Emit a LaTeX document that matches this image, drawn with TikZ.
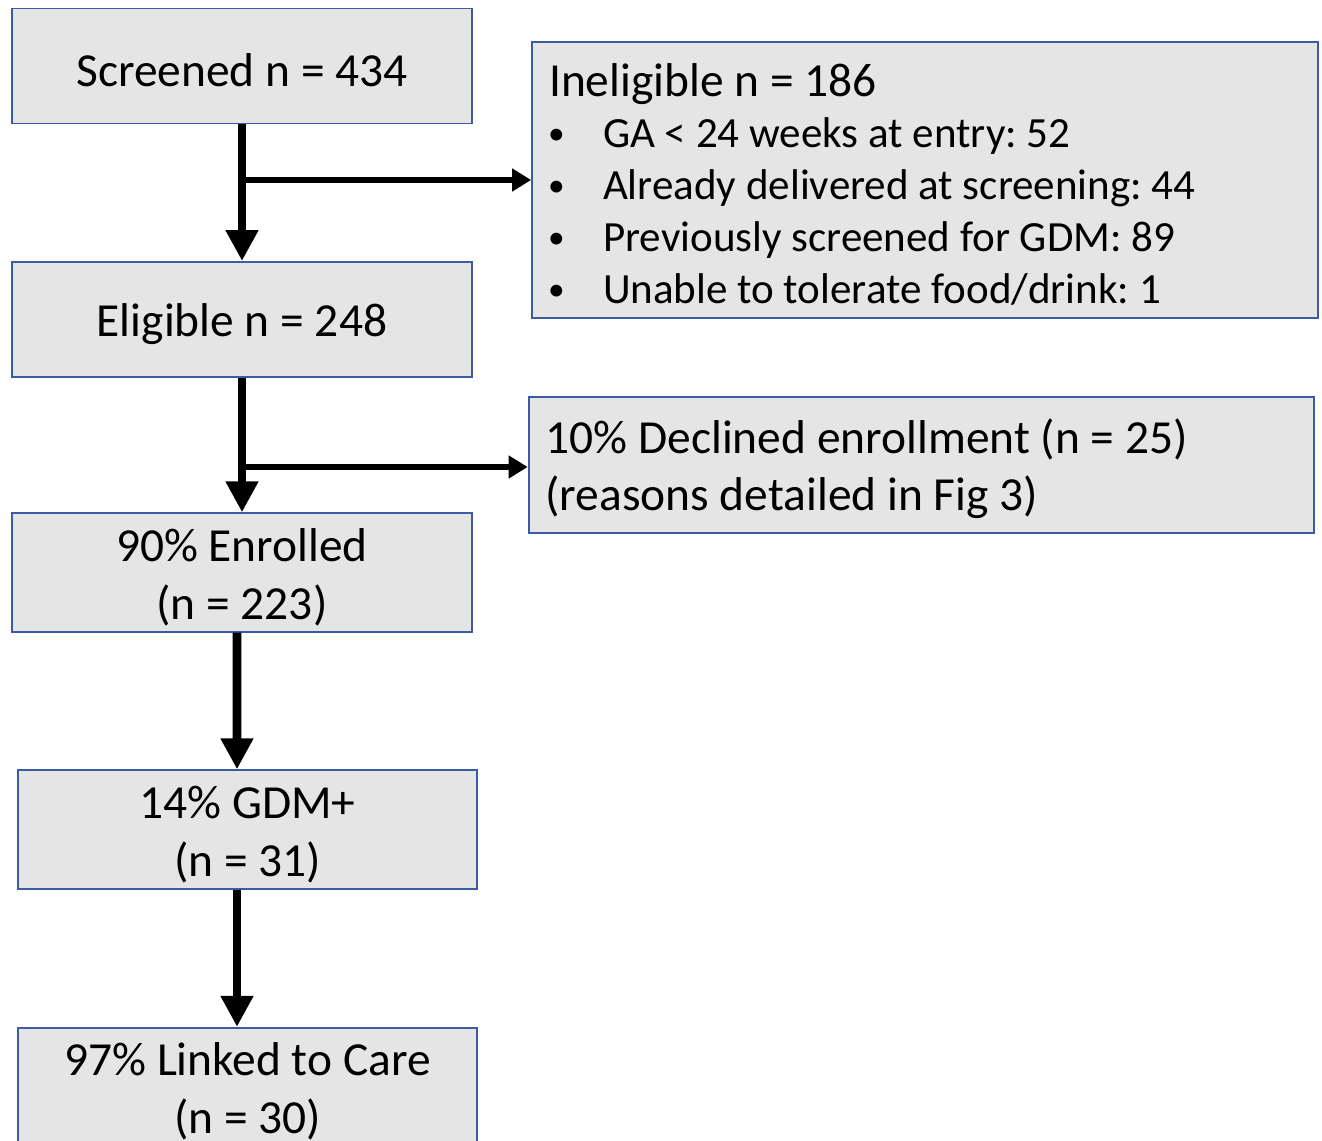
\documentclass[tikz,border=0pt]{standalone}
\usepackage{fontspec}
\setmainfont{Carlito}
\usepackage{xcolor}
\usetikzlibrary{arrows.meta}
\definecolor{boxfill}{HTML}{E6E5E5}
\definecolor{boxline}{HTML}{3B5BA5}
\newcommand{\itm}{\hspace*{-0.02cm}\makebox[1.1cm][l]{\raisebox{0.08em}{\fontsize{19}{19}\selectfont\textbullet}}}
\newcommand{\lift}{\rule{0pt}{24pt}}
\frenchspacing

\begin{document}
\begin{tikzpicture}[x=0.02cm, y=-0.02cm]
    % Define styles
    \tikzstyle{stage} = [rectangle, draw=boxline, line width=1.1pt, fill=boxfill, minimum width=9.2cm, minimum height=2.3cm, align=center, font=\fontsize{27}{33}\selectfont]
    \tikzstyle{exclusion} = [rectangle, draw=boxline, line width=1.1pt, fill=boxfill, minimum width=15.72cm, inner xsep=0.34cm, text width=15.04cm, align=flush left]
    \tikzstyle{arrow} = [line width=5pt, -{Triangle[length=0.62cm, width=0.62cm]}]
    \tikzstyle{sidearrow} = [line width=3.6pt, -{Triangle[length=0.38cm, width=0.44cm]}]

    \clip (0,0) rectangle (1322,1141);
    \fill[white] (0,0) rectangle (1322,1141);

    % Nodes
    \node[stage] (screened) at (242,66) {\lift Screened n = 434};
    \node[stage] (eligible) at (242,319.5) {\lift Eligible n = 248};
    \node[stage] (enrolled) at (242,572.5) {\lift 90\% Enrolled\\(n = 223)};
    \node[stage] (gdm) at (247.5,829.5) {\lift 14\% GDM+\\(n = 31)};
    \node[stage] (linked) at (247.5,1087) {\lift 97\% Linked to Care\\(n = 30)};
    \node[exclusion, minimum height=5.52cm, font=\fontsize{27}{29.6}\selectfont] (ineligible) at (925,180) {\lift Ineligible n = 186\\[-0.8pt]
        \fontsize{24.5}{29.6}\selectfont
        \itm GA < 24 weeks at entry: 52\\
        \itm Already delivered at screening: 44\\
        \itm Previously screened for GDM: 89\\
        \itm Unable to tolerate food/drink: 1};
    \node[exclusion, minimum height=2.72cm, font=\fontsize{27}{33}\selectfont] (declined) at (921.5,465) {\lift 10\% Declined enrollment (n = 25)\\(reasons detailed in Fig 3)};

    % Branch points
    \coordinate (split1) at (240,180);
    \coordinate (split2) at (240,467);

    % Arrows
    \draw[arrow] (screened) -- (eligible);
    \draw[sidearrow] (split1) -- (ineligible.west);
    \draw[arrow] (eligible) -- (enrolled);
    \draw[sidearrow] (split2) -- (split2 -| declined.west);
    \draw[arrow] ([xshift=-0.1cm]enrolled.south) -- ([xshift=-0.21cm]gdm.north);
    \draw[arrow] ([xshift=-0.21cm]gdm.south) -- ([xshift=-0.21cm]linked.north);
\end{tikzpicture}
\end{document}
